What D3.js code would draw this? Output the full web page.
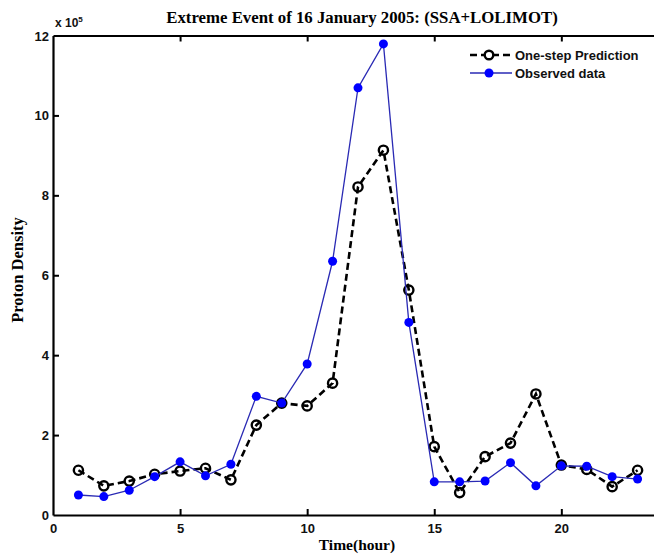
<!DOCTYPE html>
<html><head><meta charset="utf-8">
<script src="https://cdn.jsdelivr.net/npm/d3@7"></script>
<style>body{margin:0;background:#fff;overflow:hidden}</style>
</head><body>
<svg id="c" width="654" height="554"></svg>
<script>
const hours = [1,2,3,4,5,6,7,8,9,10,11,12,13,14,15,16,17,18,19,20,21,22,23];
const predicted = [1.12,0.73,0.85,1.02,1.10,1.17,0.88,2.25,2.80,2.73,3.30,8.21,9.13,5.63,1.71,0.56,1.46,1.80,3.03,1.25,1.14,0.71,1.12];
const observed  = [0.50,0.46,0.62,0.96,1.33,0.98,1.27,2.97,2.80,3.78,6.35,10.69,11.79,4.82,0.83,0.83,0.85,1.31,0.73,1.23,1.22,0.96,0.90];
const xTicks = [0,5,10,15,20];
const yTicks = [0,2,4,6,8,10,12];
const seriesNames = ["One-step Prediction","Observed data"];

const svg = d3.select("#c");
const L=53, T=35.5, B=515, R=663;
const x = d3.scaleLinear().domain([0,24]).range([L,R]);
const y = d3.scaleLinear().domain([0,12]).range([B,T]);

const gx = svg.append("g").attr("transform",`translate(0,${B})`)
  .call(d3.axisBottom(x).tickValues(xTicks).tickSizeInner(-6).tickSizeOuter(0).tickPadding(9));
const gxt = svg.append("g").attr("transform",`translate(0,${T})`)
  .call(d3.axisTop(x).tickValues(xTicks).tickSizeInner(-6).tickSizeOuter(0).tickFormat(""));
const gy = svg.append("g").attr("transform",`translate(${L},0)`)
  .call(d3.axisLeft(y).tickValues(yTicks).tickSizeInner(-6).tickSizeOuter(0).tickPadding(4));
[gx,gxt,gy].forEach(g=>{
  g.select(".domain").attr("stroke","#000").attr("stroke-width",2.2);
  g.selectAll(".tick line").attr("stroke","#000").attr("stroke-width",2);
  g.selectAll(".tick text").attr("font-family","Liberation Sans, Arial, sans-serif")
   .attr("font-weight","bold").attr("font-size",13).attr("fill","#111");
});
gy.selectAll(".tick text").attr("dy","0.35em");
gx.selectAll(".tick").filter(d=>d===0).select("line").remove();
gxt.selectAll(".tick").filter(d=>d===0).select("line").remove();
gy.selectAll(".tick").filter(d=>d===0||d===12).select("line").remove();

const ex = svg.append("text").attr("x",L+2).attr("y",27)
  .attr("font-family","Liberation Sans, Arial, sans-serif").attr("font-weight","bold").attr("font-size",12).attr("fill","#111");
ex.append("tspan").text("x 10");
ex.append("tspan").text("5").attr("font-size",8).attr("dy",-5);

svg.append("text").attr("x",362).attr("y",23).attr("text-anchor","middle")
  .attr("font-family","Liberation Serif, Times New Roman, serif").attr("font-weight","bold").attr("font-size",16.8)
  .text("Extreme Event of 16 January 2005: (SSA+LOLIMOT)");
svg.append("text").attr("x",357).attr("y",550).attr("text-anchor","middle")
  .attr("font-family","Liberation Serif, Times New Roman, serif").attr("font-weight","bold").attr("font-size",15.5)
  .text("Time(hour)");
svg.append("text").attr("transform","translate(23,270) rotate(-90)").attr("text-anchor","middle")
  .attr("font-family","Liberation Serif, Times New Roman, serif").attr("font-weight","bold").attr("font-size",16.5)
  .text("Proton Density");

const line = d3.line().x((d,i)=>x(hours[i])).y(d=>y(d));

// predicted
svg.append("path").datum(predicted).attr("d",line).attr("fill","none")
  .attr("stroke","#000").attr("stroke-width",2.6).attr("stroke-dasharray","7,4");
svg.selectAll("circle.pred").data(predicted).join("circle").attr("class","pred")
  .attr("cx",(d,i)=>x(hours[i])).attr("cy",d=>y(d)).attr("r",4.6)
  .attr("fill","none").attr("stroke","#000").attr("stroke-width",2.4);

// observed (on top)
svg.append("path").datum(observed).attr("d",line).attr("fill","none")
  .attr("stroke","#2a2ab4").attr("stroke-width",1.3);
svg.selectAll("circle.obs").data(observed).join("circle").attr("class","obs")
  .attr("cx",(d,i)=>x(hours[i])).attr("cy",d=>y(d)).attr("r",4.5).attr("fill","#0000ff");

const lg = svg.append("g");
lg.append("line").attr("x1",470).attr("x2",512).attr("y1",55).attr("y2",55)
  .attr("stroke","#000").attr("stroke-width",2.6).attr("stroke-dasharray","7,4");
lg.append("circle").attr("cx",489).attr("cy",55).attr("r",4.3).attr("fill","#fff").attr("stroke","#000").attr("stroke-width",2.4);
lg.append("line").attr("x1",470).attr("x2",512).attr("y1",73).attr("y2",73)
  .attr("stroke","#2a2ab4").attr("stroke-width",1.3);
lg.append("circle").attr("cx",489).attr("cy",73).attr("r",4.5).attr("fill","#0000ff");
lg.selectAll("text").data(seriesNames).join("text")
  .attr("x",515).attr("y",(d,i)=>55+i*18).attr("dy","0.35em")
  .attr("font-family","Liberation Sans, Arial, sans-serif").attr("font-weight","bold").attr("font-size",13).attr("fill","#111")
  .text(d=>d);
</script>
</body></html>
